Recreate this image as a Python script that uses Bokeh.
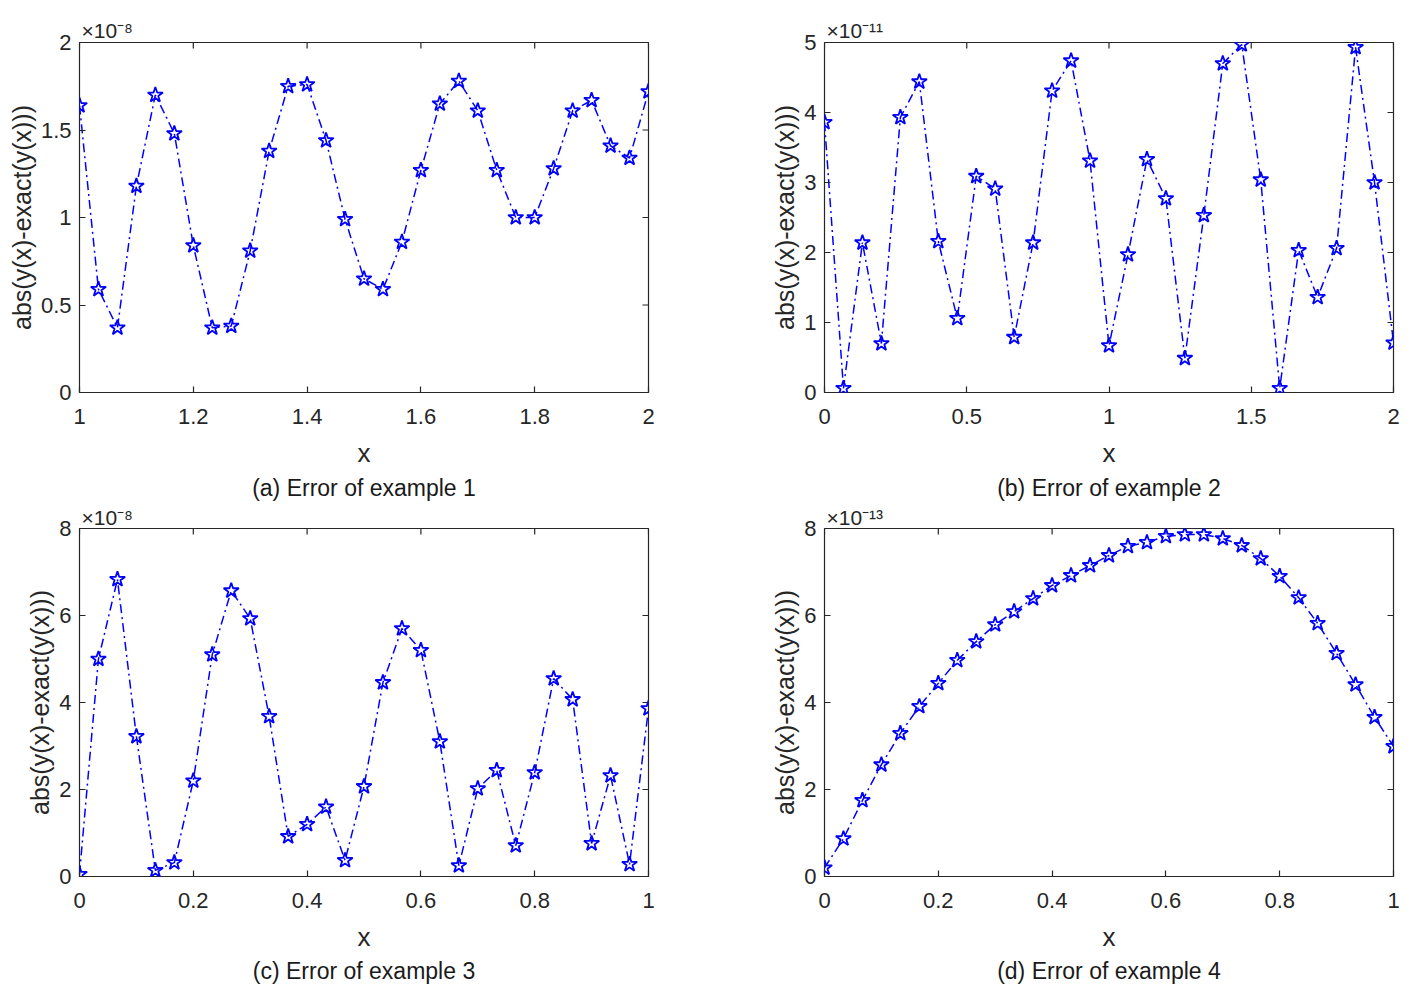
import math
from bokeh.plotting import figure
from bokeh.layouts import column, row
from bokeh.models import (Range1d, LinearAxis, FixedTicker, CustomJSTickFormatter, Title)
from bokeh.embed import file_html
from bokeh.resources import INLINE

# ---------------- data (values in units of the axis multiplier) ----------------
x_a = [1.0, 1.0333, 1.0667, 1.1, 1.1333, 1.1667, 1.2, 1.2333, 1.2667, 1.3, 1.3333,
       1.3667, 1.4, 1.4333, 1.4667, 1.5, 1.5333, 1.5667, 1.6, 1.6333, 1.6667,
       1.7, 1.7333, 1.7667, 1.8, 1.8333, 1.8667, 1.9, 1.9333, 1.9667, 2.0]
err_a = [1.64, 0.59, 0.37, 1.18, 1.70, 1.48, 0.84, 0.37, 0.38, 0.81, 1.38,
         1.75, 1.76, 1.44, 0.99, 0.65, 0.59, 0.86, 1.27, 1.65, 1.78,
         1.61, 1.27, 1.00, 1.00, 1.28, 1.61, 1.67, 1.41, 1.34, 1.72]

x_b = [0.0, 0.0667, 0.1333, 0.2, 0.2667, 0.3333, 0.4, 0.4667, 0.5333, 0.6, 0.6667,
       0.7333, 0.8, 0.8667, 0.9333, 1.0, 1.0667, 1.1333, 1.2, 1.2667, 1.3333,
       1.4, 1.4667, 1.5333, 1.6, 1.6667, 1.7333, 1.8, 1.8667, 1.9333, 2.0]
err_b = [3.86, 0.06, 2.14, 0.70, 3.93, 4.44, 2.16, 1.06, 3.09, 2.91, 0.79,
         2.14, 4.31, 4.74, 3.31, 0.67, 1.97, 3.33, 2.77, 0.49, 2.53,
         4.70, 4.97, 3.04, 0.06, 2.03, 1.36, 2.06, 4.93, 3.00, 0.71]

x_c = [0.0, 0.0333, 0.0667, 0.1, 0.1333, 0.1667, 0.2, 0.2333, 0.2667, 0.3, 0.3333,
       0.3667, 0.4, 0.4333, 0.4667, 0.5, 0.5333, 0.5667, 0.6, 0.6333, 0.6667,
       0.7, 0.7333, 0.7667, 0.8, 0.8333, 0.8667, 0.9, 0.9333, 0.9667, 1.0]
err_c = [0.05, 5.00, 6.83, 3.22, 0.14, 0.32, 2.20, 5.10, 6.57, 5.93, 3.68,
         0.92, 1.20, 1.60, 0.37, 2.07, 4.46, 5.70, 5.20, 3.10, 0.25,
         2.02, 2.44, 0.71, 2.39, 4.55, 4.07, 0.76, 2.32, 0.28, 3.86]

x_d = list(x_c)
err_d = [0.20, 0.87, 1.75, 2.57, 3.29, 3.91, 4.44, 4.97, 5.40, 5.79, 6.09,
         6.39, 6.69, 6.92, 7.15, 7.38, 7.59, 7.68, 7.82, 7.86, 7.86,
         7.77, 7.61, 7.31, 6.90, 6.41, 5.82, 5.13, 4.41, 3.66, 2.99]

xticks_a = [1, 1.2, 1.4, 1.6, 1.8, 2]
yticks_a = [0, 0.5, 1, 1.5, 2]
xticks_b = [0, 0.5, 1, 1.5, 2]
yticks_b = [0, 1, 2, 3, 4, 5]
xticks_cd = [0, 0.2, 0.4, 0.6, 0.8, 1]
yticks_cd = [0, 2, 4, 6, 8]

multipliers = ["×10⁻⁸", "×10⁻¹¹", "×10⁻⁸", "×10⁻¹³"]
captions = ["(a) Error of example 1", "(b) Error of example 2",
            "(c) Error of example 3", "(d) Error of example 4"]
ylabel = "abs(y(x)-exact(y(x)))"
xlabel = "x"

FONT = "Liberation Sans"
TXT = "#262626"
fmt_code = "return String(Math.round(tick*1000)/1000);"


def panel(xs, ys, xr, yr, xt, yt, mult, caption, width, height,
          left, right, top, bottom, cap_standoff, mult_standoff):
    p = figure(width=width, height=height,
               x_range=Range1d(*xr), y_range=Range1d(*yr),
               output_backend="svg", toolbar_location=None,
               x_axis_location=None, y_axis_location=None,
               min_border_left=left, min_border_right=right,
               min_border_top=top, min_border_bottom=bottom,
               background_fill_color="white", border_fill_color="white")
    p.grid.visible = False
    p.outline_line_color = TXT
    p.outline_line_width = 1.2

    for loc, ticks in (("below", xt), ("left", yt)):
        ax = LinearAxis(ticker=FixedTicker(ticks=ticks),
                        formatter=CustomJSTickFormatter(code=fmt_code))
        ax.axis_line_color = None
        ax.major_tick_in = 6
        ax.major_tick_out = 0
        ax.major_tick_line_color = TXT
        ax.major_tick_line_width = 1.2
        ax.minor_tick_line_color = None
        ax.major_label_text_font = FONT
        ax.major_label_text_color = TXT
        ax.major_label_text_font_size = "22px"
        ax.axis_label_text_font = FONT
        ax.axis_label_text_font_style = "normal"
        ax.axis_label_text_color = TXT
        if loc == "below":
            ax.axis_label = xlabel
            ax.axis_label_text_font_size = "26px"
            ax.major_label_standoff = 16
            ax.axis_label_standoff = 11
        else:
            ax.axis_label = ylabel
            ax.axis_label_text_font_size = "25px"
            ax.major_label_standoff = 8
            ax.axis_label_standoff = 2
        p.add_layout(ax, loc)

    # inward ticks on the top and right edges of the box (half clipped by the frame)
    p.scatter(xt, [yr[1]] * len(xt), marker="dash", angle=math.pi / 2, size=12,
              line_color=TXT, line_width=1.2)
    p.scatter([xr[1]] * len(yt), yt, marker="dash", size=12,
              line_color=TXT, line_width=1.2)

    p.line(xs, ys, line_color="blue", line_width=1.5, line_dash="9 4 2 4")
    p.scatter(xs, ys, marker="star", size=16, fill_color=None,
              line_color="blue", line_width=1.8)

    p.add_layout(Title(text=mult, align="left", offset=2, standoff=mult_standoff,
                       text_font=FONT, text_font_size="21px",
                       text_font_style="normal", text_color=TXT), "above")

    p.add_layout(Title(text=caption, align="center", text_font=FONT,
                       text_font_size="23px", text_font_style="normal",
                       text_color="#1a1a1a", standoff=cap_standoff), "below")
    return p


pa = panel(x_a, err_a, (1, 2), (0, 2), xticks_a, yticks_a, multipliers[0], captions[0],
           745, 503, 79, 97, 42, 111, 5, 1)
pb = panel(x_b, err_b, (0, 2), (0, 5), xticks_b, yticks_b, multipliers[1], captions[1],
           666, 503, 79, 18, 42, 111, 5, 1)
pc = panel(x_c, err_c, (0, 1), (0, 8), xticks_cd, yticks_cd, multipliers[2], captions[2],
           745, 484, 79, 97, 25, 111, 2, 0)
pd = panel(x_d, err_d, (0, 1), (0, 8), xticks_cd, yticks_cd, multipliers[3], captions[3],
           666, 484, 79, 18, 25, 111, 2, 0)

layout = column(row(pa, pb), row(pc, pd))
open("out.html", "w").write(file_html(layout, INLINE))
